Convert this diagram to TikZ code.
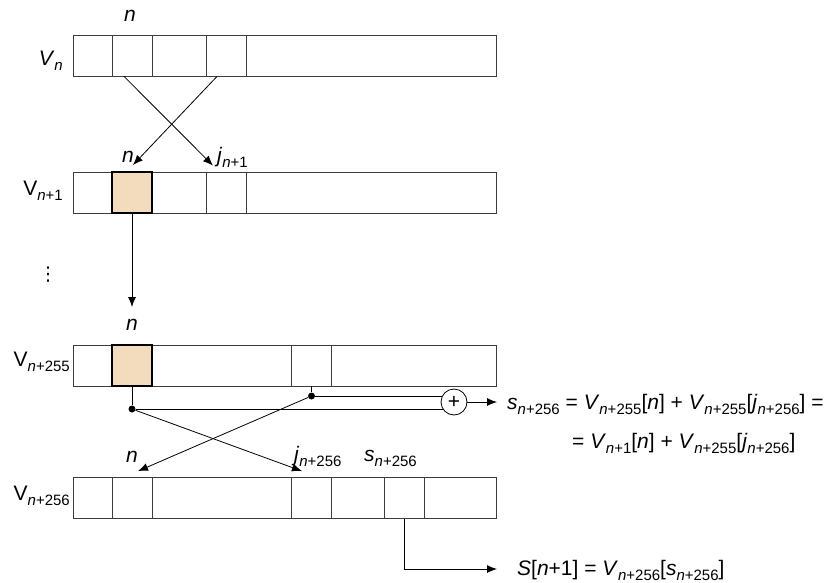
\documentclass[tikz,border=0pt]{standalone}
\usepackage{fontspec}
\setmainfont{Liberation Sans}
\newfontfamily\symfont{DejaVu Sans}
\usetikzlibrary{arrows.meta, positioning}

\definecolor{cellfill}{RGB}{242,220,189}
\definecolor{linegray}{RGB}{60,60,60}
\newcommand{\sbs}[1]{\raisebox{-5pt}{\fontsize{15}{17}\selectfont #1}}
\newcommand{\nn}{\textit{n}}

\begin{document}
\begin{tikzpicture}[x=1pt, y=-1pt, font=\fontsize{21}{25}\selectfont]

        % Setup the styles for rows, cells and links
        \tikzset{row style/.style={draw=linegray, line width=0.8pt,
                                   minimum width=423pt, minimum height=41pt,
                                   inner sep=0pt},
                 cell style/.style={draw=linegray, line width=0.8pt,
                                    minimum width=40pt, minimum height=41pt,
                                    inner sep=0pt},
                 hot cell/.style={cell style, draw=black, line width=2pt,
                                  fill=cellfill},
                 tag/.style={inner sep=0pt},
                 junction/.style={circle, fill=black, inner sep=0pt,
                                  minimum size=7pt},
                 link/.style={draw=black, line width=0.8pt},
                 arrow/.style={link, -{Latex[length=10pt, width=8pt]}}}

        \useasboundingbox (0,0) rectangle (838,582);

        % Draw the rows
        \node[row style] at (284.5, 55.5)  (V0)   {};
        \node[row style] at (284.5, 192.5) (V1)   {};
        \node[row style] at (284.5, 365.5) (V255) {};
        \node[row style] at (284.5, 498)   (V256) {};

        % Draw the cells
        \node[cell style] at (132, 55.5)    (c0n)   {};
        \node[cell style] at (226.5, 55.5)  (c0j)   {};
        \node[hot cell]   at (132, 192.5)   (c1n)   {};
        \node[cell style] at (226.5, 192.5) (c1j)   {};
        \node[hot cell]   at (132, 365.5)   (c255n) {};
        \node[cell style] at (311.5, 365.5) (c255j) {};
        \node[cell style] at (132, 498)     (c256n) {};
        \node[cell style] at (311.5, 498)   (c256j) {};
        \node[cell style] at (404.5, 498)   (c256s) {};

        % Row names
        \node[tag, anchor=base east] at (63, 65)  (lV0)   {\textit{V}\sbs{\nn}};
        \node[tag, anchor=base east] at (63, 195) (lV1)   {V\sbs{\nn+1}};
        \node[tag, anchor=base east] at (70, 366) (lV255) {V\sbs{\nn+255}};
        \node[tag, anchor=base east] at (70, 500) (lV256) {V\sbs{\nn+256}};
        \node[tag, font=\symfont\fontsize{19}{19}\selectfont] at (48, 275) (skip) {⋮};

        % Index labels
        \node[tag, anchor=base] at (130, 21)  (i0n)   {\nn};
        \node[tag, anchor=base] at (128, 162) (i1n)   {\nn};
        \node[tag, anchor=base west] at (217, 162) (i1j) {\textit{j}\sbs{\nn+1}};
        \node[tag, anchor=base] at (132, 330) (i255n) {\nn};
        \node[tag, anchor=base] at (132, 462) (i256n) {\nn};
        \node[tag, anchor=base west] at (294, 461) (i256j) {\textit{j}\sbs{\nn+256}};
        \node[tag, anchor=base west] at (364, 461) (i256s) {\textit{s}\sbs{\nn+256}};

        % Swap from V_n to V_n+1
        \draw[arrow] ([xshift=-8pt]c0n.south) -- ([xshift=-13.5pt, yshift=6pt]c1j.north);
        \draw[arrow] ([xshift=-9.5pt]c0j.south) -- ([xshift=1pt, yshift=6pt]c1n.north);

        \coordinate (down) at (132, 307);
        \draw[arrow] (c1n.south) -- (down);

        % Sum of the two cells
        \node[junction] at (132, 409)   (d1) {};
        \node[junction] at (311.5, 396) (d2) {};
        \node[circle, draw=black, line width=0.8pt, minimum size=26pt, inner sep=0pt,
              font=\fontsize{21}{21}\selectfont] at (454, 402) (plus) {+};
        \draw[link] (c255n.south) -- (d1);
        \draw[link] (c255j.south) -- (d2);
        \draw[link] (d2) -- (d2 -| plus.152);
        \draw[link] (d1) -- (d1 -| plus.213);

        \coordinate (sumout) at (497, 402);
        \draw[arrow] (plus) -- (sumout);
        \node[tag, anchor=base west] at (507, 409) (eq1)
            {\textit{s}\sbs{\nn+256} = \textit{V}\sbs{\nn+255}[\nn] +
             \textit{V}\sbs{\nn+255}[\textit{j}\sbs{\nn+256}] =};
        \node[tag, anchor=base west] at (572, 448) (eq2)
            {= \textit{V}\sbs{\nn+1}[\nn] + \textit{V}\sbs{\nn+255}[\textit{j}\sbs{\nn+256}]};

        % Swap from V_n+255 to V_n+256
        \draw[arrow] (d1) -- ([xshift=-9.5pt, yshift=6pt]c256j.north);
        \draw[arrow] (d2) -- ([xshift=6pt, yshift=6pt]c256n.north);

        % Output byte
        \coordinate (sout) at (497, 569);
        \draw[arrow] (c256s.south) |- (sout);
        \node[tag, anchor=base west] at (517, 575) (out)
            {\textit{S}[\nn+1] = \textit{V}\sbs{\nn+256}[\textit{s}\sbs{\nn+256}]};
    \end{tikzpicture}
\end{document}
